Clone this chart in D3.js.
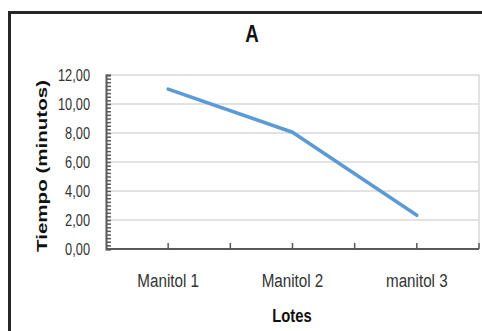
<!DOCTYPE html>
<html>
<head>
<meta charset="utf-8">
<script src="https://cdn.jsdelivr.net/npm/d3@7"></script>
<style>
  html, body { margin: 0; padding: 0; background: #fff; }
  svg { display: block; font-family: "Liberation Sans", Arial, sans-serif; }
</style>
</head>
<body>
<script>
// data
const lotes = ['Manitol 1', 'Manitol 2', 'manitol 3'];
const tiempo = [11.03, 8.05, 2.33];
const yTicks = [0, 2, 4, 6, 8, 10, 12];

const width = 482, height = 331;
const marginTop = 75, marginRight = 3, marginBottom = 82, marginLeft = 106;

const x = d3.scaleBand().domain(lotes).range([marginLeft, width - marginRight]);
const y = d3.scaleLinear().domain([0, 12]).range([height - marginBottom, marginTop]);
const fmt = v => d3.format('.2f')(v).replace('.', ',');
const mid = d => x(d) + x.bandwidth() / 2;

const svg = d3.select('body').append('svg')
    .attr('width', width)
    .attr('height', height)
    .attr('viewBox', [0, 0, width, height]);

// outer frame (only top and left edges show in the crop)
svg.append('path')
    .attr('d', `M9.5,${height}V12.5H${width}`)
    .attr('fill', 'none')
    .attr('stroke', '#262626')
    .attr('stroke-width', 3);

// title (the source text is narrow and tall, so squeeze it horizontally)
svg.append('text')
    .attr('transform', 'translate(252,42) scale(0.78,1)')
    .attr('text-anchor', 'middle')
    .attr('font-size', 24)
    .attr('font-weight', 'bold')
    .attr('fill', '#111')
    .text('A');

// gridlines
svg.append('g')
    .selectAll('line')
    .data(yTicks.filter(d => d > 0))
    .join('line')
    .attr('x1', marginLeft)
    .attr('x2', width - marginRight)
    .attr('y1', d => y(d))
    .attr('y2', d => y(d))
    .attr('stroke', '#d9d9d9')
    .attr('stroke-width', 1.5);

// right edge of plot area
svg.append('line')
    .attr('x1', width - marginRight)
    .attr('x2', width - marginRight)
    .attr('y1', y(12))
    .attr('y2', y(0))
    .attr('stroke', '#d9d9d9')
    .attr('stroke-width', 1.5);

// y axis with minor ticks pointing inwards
svg.append('g')
    .attr('transform', `translate(${marginLeft},0)`)
    .call(d3.axisLeft(y).tickValues(d3.range(0, 12.01, 0.25)).tickSize(-5).tickFormat(''))
    .call(g => g.select('.domain').attr('stroke', '#595959').attr('stroke-width', 2))
    .call(g => g.selectAll('.tick line').attr('stroke', '#595959').attr('stroke-width', 1.5));

// y tick labels
svg.append('g')
    .selectAll('text')
    .data(yTicks)
    .join('text')
    .attr('transform', d => `translate(90,${y(d) + 5.5}) scale(0.8,1)`)
    .attr('text-anchor', 'end')
    .attr('font-size', 16)
    .attr('fill', '#333')
    .text(fmt);

// x axis: line plus inward ticks at band centres and edges
const xTickPos = lotes.flatMap(d => [mid(d), x(d) + x.bandwidth()]);
svg.append('line')
    .attr('x1', marginLeft)
    .attr('x2', width - marginRight)
    .attr('y1', y(0))
    .attr('y2', y(0))
    .attr('stroke', '#595959')
    .attr('stroke-width', 2);
svg.append('g')
    .selectAll('line')
    .data(xTickPos)
    .join('line')
    .attr('x1', d => d)
    .attr('x2', d => d)
    .attr('y1', y(0))
    .attr('y2', y(0) - 6)
    .attr('stroke', '#595959')
    .attr('stroke-width', 1.5);

// category labels
svg.append('g')
    .selectAll('text')
    .data(lotes)
    .join('text')
    .attr('transform', d => `translate(${mid(d)},287) scale(0.8,1)`)
    .attr('text-anchor', 'middle')
    .attr('font-size', 19)
    .attr('fill', '#333')
    .text(d => d);

// axis titles
svg.append('text')
    .attr('transform', 'translate(292,322) scale(0.78,1)')
    .attr('text-anchor', 'middle')
    .attr('font-size', 19)
    .attr('font-weight', 'bold')
    .attr('fill', '#111')
    .text('Lotes');

svg.append('text')
    .attr('transform', 'translate(47,166) rotate(-90)')
    .attr('text-anchor', 'middle')
    .attr('font-size', 15)
    .attr('font-weight', 'bold')
    .attr('fill', '#111')
    .attr('textLength', 172)
    .attr('lengthAdjust', 'spacingAndGlyphs')
    .text('Tiempo (minutos)');

// series line
const line = d3.line()
    .x((d, i) => mid(lotes[i]))
    .y(d => y(d));

svg.append('path')
    .datum(tiempo)
    .attr('d', line)
    .attr('fill', 'none')
    .attr('stroke', '#5b9bd5')
    .attr('stroke-width', 3.5)
    .attr('stroke-linecap', 'round')
    .attr('stroke-linejoin', 'round');
</script>
</body>
</html>
